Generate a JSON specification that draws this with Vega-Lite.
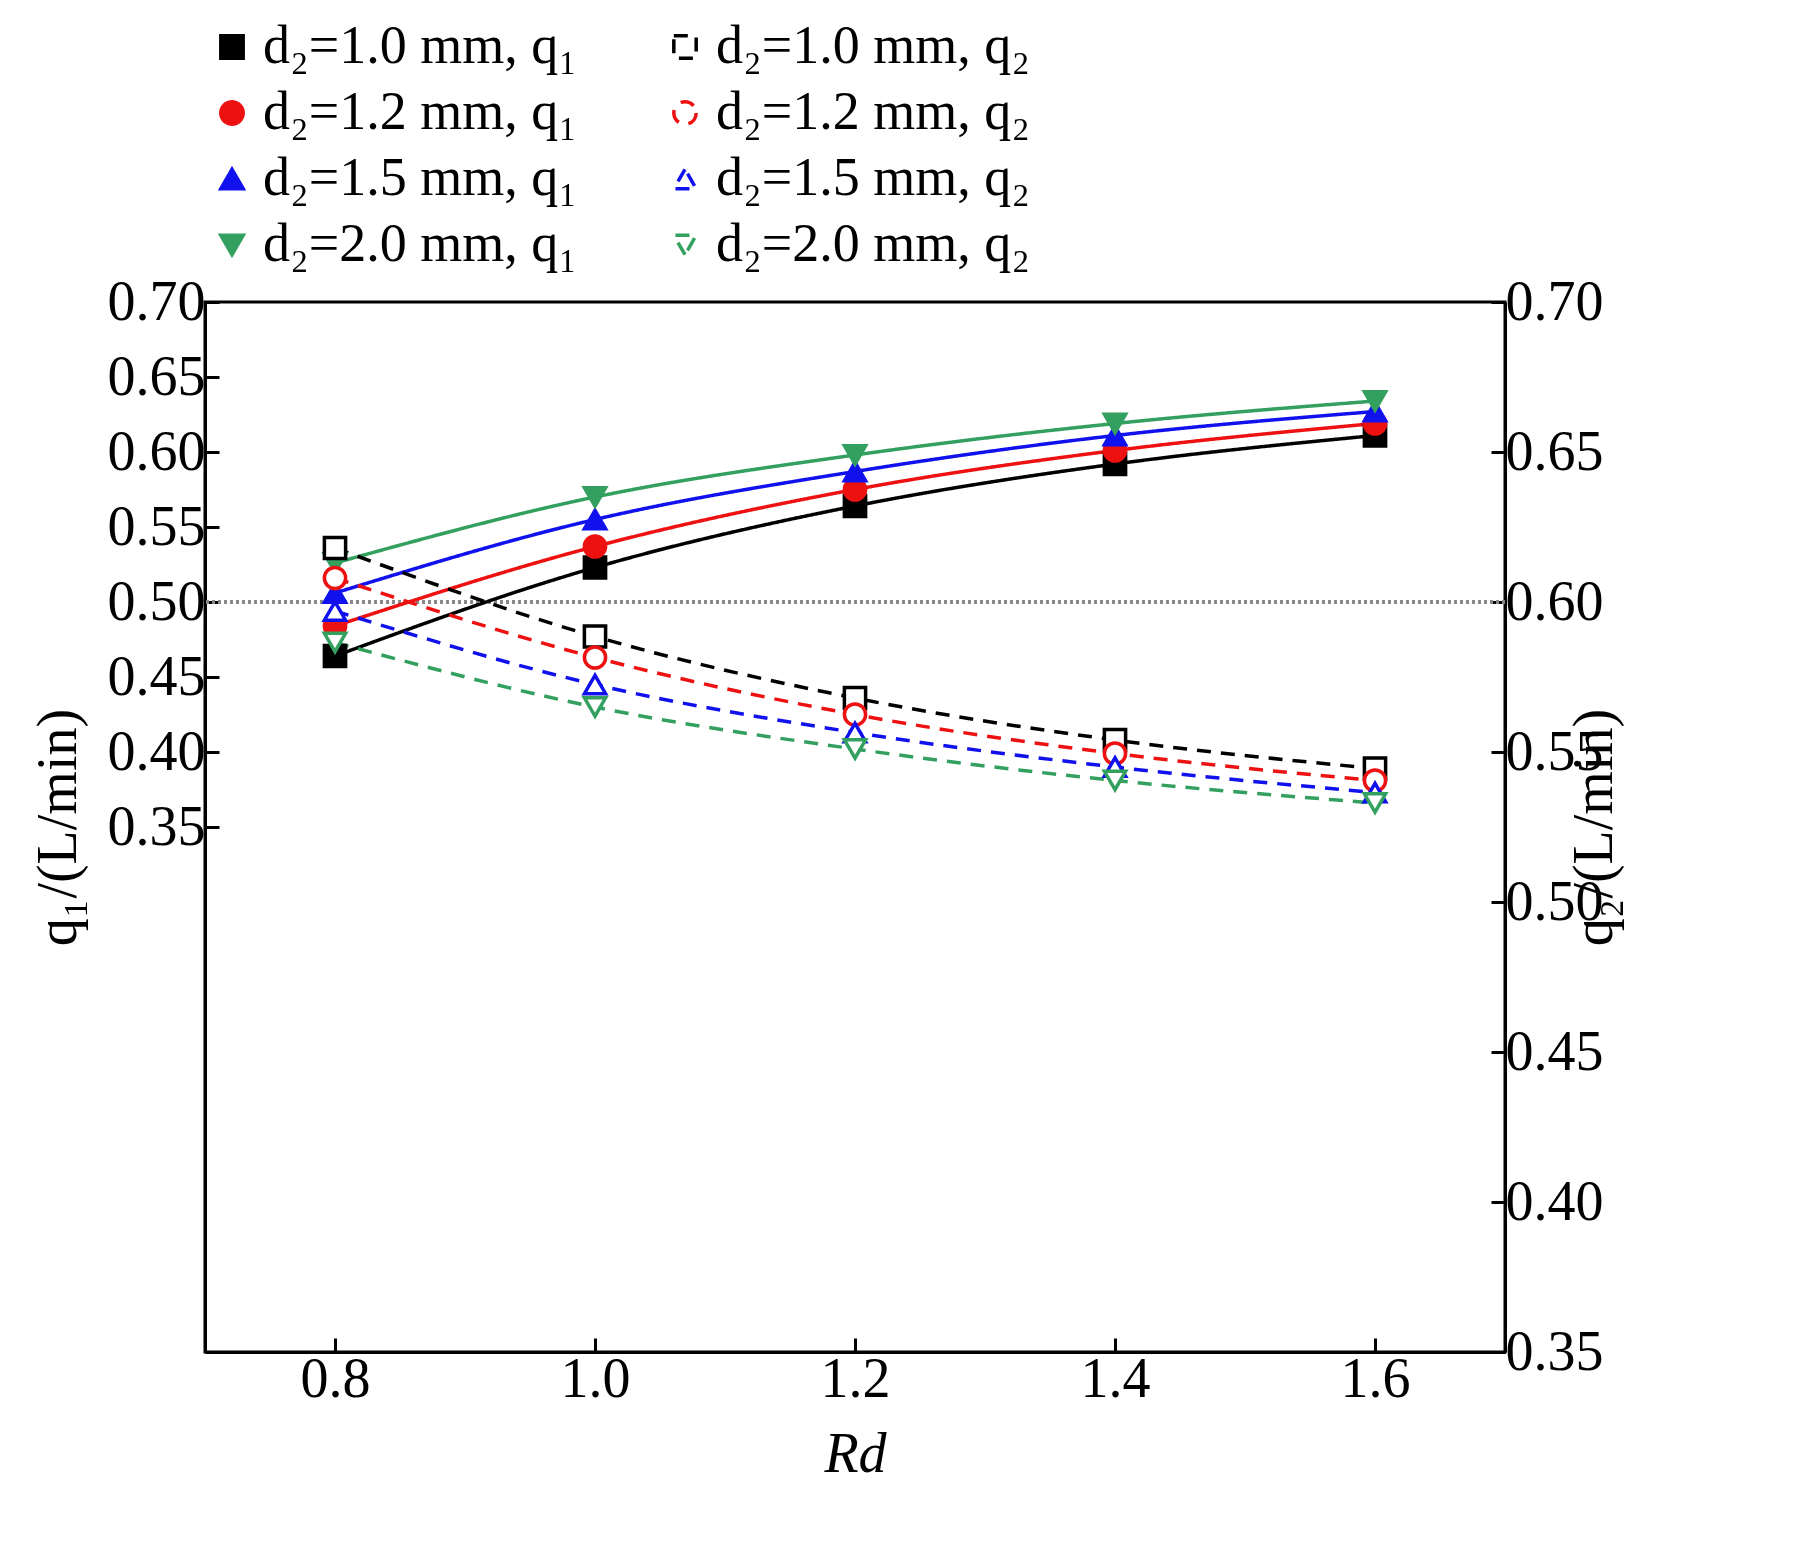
{
"$schema":"https://vega.github.io/schema/vega-lite/v6.json",
"width":1300,"height":1050,
"padding":{"left":30,"top":20,"right":30,"bottom":20},
"background":"white",
"config":{"font":"Liberation Serif","view":{"stroke":"black","strokeWidth":3},
"axis":{"labelFontSize":56,"titleFontSize":56,"labelColor":"black","titleColor":"black","domainColor":"black","tickColor":"black","domainWidth":3,"tickWidth":3,"tickSize":-14,"grid":false,"labelPadding":14,"titleFontWeight":"normal"}},
"data":{"values":[
{"s":"q1 1.0","x":0.8,"y":0.464},{"s":"q1 1.0","x":1.0,"y":0.523},{"s":"q1 1.0","x":1.2,"y":0.564},{"s":"q1 1.0","x":1.4,"y":0.592},{"s":"q1 1.0","x":1.6,"y":0.611},
{"s":"q1 1.2","x":0.8,"y":0.484},{"s":"q1 1.2","x":1.0,"y":0.537},{"s":"q1 1.2","x":1.2,"y":0.575},{"s":"q1 1.2","x":1.4,"y":0.601},{"s":"q1 1.2","x":1.6,"y":0.619},
{"s":"q1 1.5","x":0.8,"y":0.506},{"s":"q1 1.5","x":1.0,"y":0.555},{"s":"q1 1.5","x":1.2,"y":0.587},{"s":"q1 1.5","x":1.4,"y":0.611},{"s":"q1 1.5","x":1.6,"y":0.627},
{"s":"q1 2.0","x":0.8,"y":0.526},{"s":"q1 2.0","x":1.0,"y":0.570},{"s":"q1 2.0","x":1.2,"y":0.598},{"s":"q1 2.0","x":1.4,"y":0.619},{"s":"q1 2.0","x":1.6,"y":0.634},
{"s":"q2 1.0","x":0.8,"y":0.536},{"s":"q2 1.0","x":1.0,"y":0.477},{"s":"q2 1.0","x":1.2,"y":0.436},{"s":"q2 1.0","x":1.4,"y":0.408},{"s":"q2 1.0","x":1.6,"y":0.389},
{"s":"q2 1.2","x":0.8,"y":0.516},{"s":"q2 1.2","x":1.0,"y":0.463},{"s":"q2 1.2","x":1.2,"y":0.425},{"s":"q2 1.2","x":1.4,"y":0.399},{"s":"q2 1.2","x":1.6,"y":0.381},
{"s":"q2 1.5","x":0.8,"y":0.494},{"s":"q2 1.5","x":1.0,"y":0.445},{"s":"q2 1.5","x":1.2,"y":0.413},{"s":"q2 1.5","x":1.4,"y":0.390},{"s":"q2 1.5","x":1.6,"y":0.373},
{"s":"q2 2.0","x":0.8,"y":0.473},{"s":"q2 2.0","x":1.0,"y":0.430},{"s":"q2 2.0","x":1.2,"y":0.402},{"s":"q2 2.0","x":1.4,"y":0.381},{"s":"q2 2.0","x":1.6,"y":0.366}
]},
"layer":[
{"layer":[
{"mark":{"type":"rule","strokeDash":[3,3],"color":"#888","strokeWidth":2.5},
 "encoding":{"y":{"datum":0.5,"type":"quantitative"}}},
{"mark":{"type":"line","interpolate":"monotone","strokeWidth":3.5},
 "encoding":{
  "x":{"field":"x","type":"quantitative","scale":{"domain":[0.7,1.7],"nice":false},"axis":{"values":[0.8,1.0,1.2,1.4,1.6],"format":".1f","title":"Rd","titleFontStyle":"italic","titlePadding":20}},
  "y":{"field":"y","type":"quantitative","scale":{"domain":[0.35,0.7],"nice":false},"axis":{"values":[0.35,0.4,0.45,0.5,0.55,0.6,0.65,0.7],"format":".2f","title":"q₁/(L/min)","titlePadding":20}},
  "color":{"field":"s","type":"nominal","title":null,"sort":null,
   "scale":{"domain":["q1 1.0","q2 1.0","q1 1.2","q2 1.2","q1 1.5","q2 1.5","q1 2.0","q2 2.0"],"range":["black","black","#ee1111","#ee1111","#1111ee","#1111ee","#33a060","#33a060"]},
   "legend":{"orient":"top","columns":2,"columnPadding":80,"rowPadding":12,"labelFontSize":54,"labelFont":"Liberation Serif","symbolSize":500,"symbolStrokeWidth":3.5,"labelLimit":600,"padding":0,"offset":30,
    "labelExpr":"{'q1 1.0':'d₂=1.0 mm, q₁','q2 1.0':'d₂=1.0 mm, q₂','q1 1.2':'d₂=1.2 mm, q₁','q2 1.2':'d₂=1.2 mm, q₂','q1 1.5':'d₂=1.5 mm, q₁','q2 1.5':'d₂=1.5 mm, q₂','q1 2.0':'d₂=2.0 mm, q₁','q2 2.0':'d₂=2.0 mm, q₂'}[datum.label]"}},
  "strokeDash":{"field":"s","type":"nominal","sort":null,"title":null,
   "scale":{"domain":["q1 1.0","q2 1.0","q1 1.2","q2 1.2","q1 1.5","q2 1.5","q1 2.0","q2 2.0"],"range":[[1,0],[14,10],[1,0],[14,10],[1,0],[14,10],[1,0],[14,10]]}}
 }},
{"mark":{"type":"point","size":450,"strokeWidth":3.5,"opacity":1},
 "encoding":{
  "x":{"field":"x","type":"quantitative"},
  "y":{"field":"y","type":"quantitative"},
  "color":{"field":"s","type":"nominal","sort":null,"title":null},
  "shape":{"field":"s","type":"nominal","sort":null,"title":null,
   "scale":{"domain":["q1 1.0","q2 1.0","q1 1.2","q2 1.2","q1 1.5","q2 1.5","q1 2.0","q2 2.0"],"range":["square","square","circle","circle","triangle-up","triangle-up","triangle-down","triangle-down"]}},
  "fill":{"field":"s","type":"nominal","sort":null,"title":null,
   "scale":{"domain":["q1 1.0","q2 1.0","q1 1.2","q2 1.2","q1 1.5","q2 1.5","q1 2.0","q2 2.0"],"range":["black","white","#ee1111","white","#1111ee","white","#33a060","white"]}}
 }}
]},
{"mark":{"type":"rule","opacity":0},
 "encoding":{"y":{"datum":0.5,"type":"quantitative","scale":{"domain":[0.35,0.7],"nice":false},
  "axis":{"orient":"right","values":[0.35,0.4,0.45,0.5,0.55,0.6,0.65,0.7],"format":".2f","title":"q₂/(L/min)","titleAngle":270,"titlePadding":20}}}}
],
"resolve":{"scale":{"y":"independent"}}
}
